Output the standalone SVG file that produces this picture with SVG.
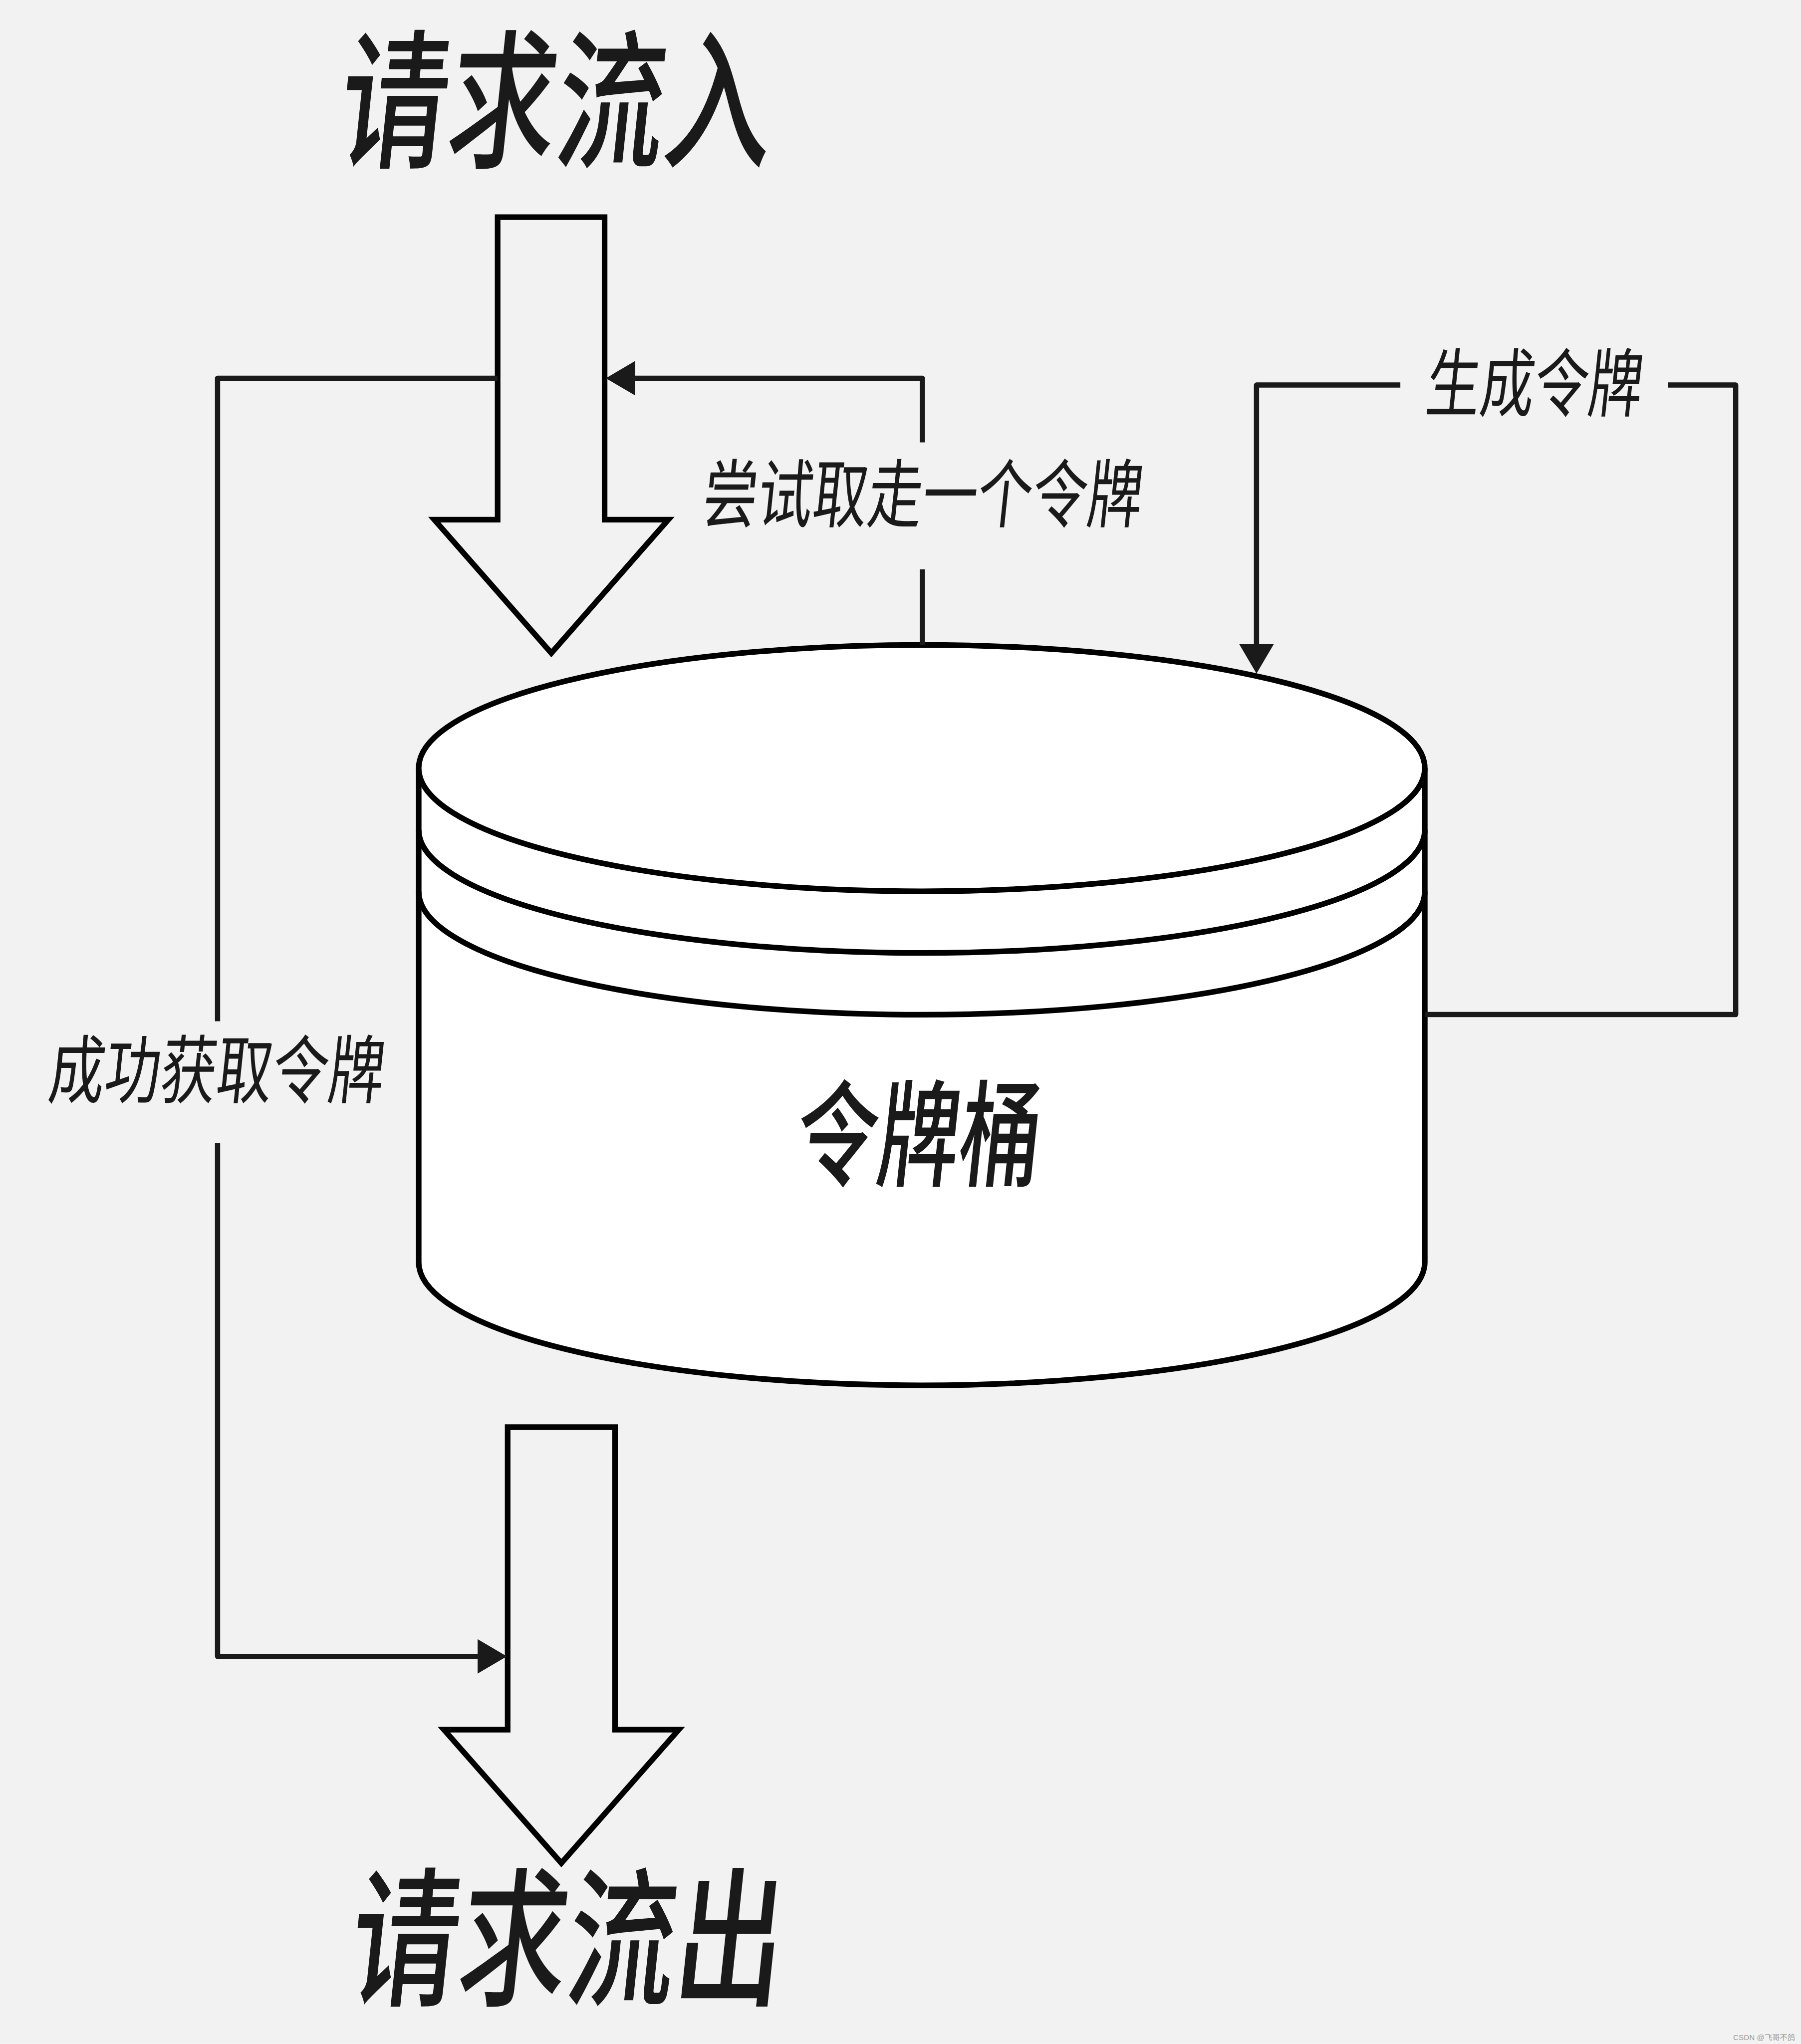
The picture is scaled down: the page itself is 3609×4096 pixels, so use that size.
<svg xmlns="http://www.w3.org/2000/svg" width="3609" height="4096" viewBox="0 0 3609 4096">
<style>
.bg{fill:#f2f2f2}
.shape{fill:none;stroke:#000;stroke-width:14;stroke-linejoin:miter;stroke-miterlimit:10}
.cyl{fill:#fff;stroke:#000;stroke-width:14}
.arc{fill:none;stroke:#000;stroke-width:14}
.conn{fill:none;stroke:#1a1a1a;stroke-width:13;stroke-linejoin:round}
.title{font-family:"Noto Sans CJK SC","Noto Sans CJK TC",sans-serif;font-weight:500;font-size:374px;fill:#1a1a1a;text-anchor:middle}
.label{font-family:"Noto Sans CJK SC","Noto Sans CJK TC",sans-serif;font-weight:400;font-size:186px;fill:#1a1a1a;text-anchor:middle}
.name{font-family:"Noto Sans CJK SC","Noto Sans CJK TC",sans-serif;font-weight:500;font-size:288px;fill:#1a1a1a;text-anchor:middle}
.wm{font-family:"Liberation Sans","Noto Sans CJK SC",sans-serif;font-size:19px;fill:#9a9a9a;text-anchor:end}
</style>
<defs>
<marker id="ah" markerUnits="userSpaceOnUse" markerWidth="74" markerHeight="88" refX="0" refY="44" orient="auto" viewBox="0 0 74 88">
<path d="M0,1 L73,44 L0,87 Z" fill="#1a1a1a"/>
</marker>
</defs>
<g transform="scale(0.8029)">
<rect class="bg" x="0" y="0" width="4495" height="5101"/>

<g id="title-in">
<text class="title" transform="translate(1378,390) skewX(-6) scale(0.722,1)">请求流入</text>
</g>

<g id="arrow-in">
<polygon class="shape" points="1242,542 1509,542 1509,1297 1668,1297 1376,1630 1084,1297 1242,1297"/>
</g>

<g id="bucket">
<path class="cyl" d="M1045,1917 L1045,3150 A1255.5,307.5 0 0 0 3556,3150 L3556,1917"/>
<ellipse class="cyl" cx="2300.5" cy="1917" rx="1255.5" ry="307.5"/>
<path class="arc" d="M1045,2071 A1255.5,307.5 0 0 0 3556,2071"/>
<path class="arc" d="M1045,2225 A1255.5,307.5 0 0 0 3556,2225"/>
<text class="name" transform="translate(2284,2938) skewX(-6) scale(0.708,1)">令牌桶</text>
</g>

<g id="arrow-out">
<polygon class="shape" points="1267,3562 1535,3562 1535,4317 1694,4317 1401,4650 1108,4317 1267,4317"/>
</g>

<g id="title-out">
<text class="title" transform="translate(1405,4977) skewX(-6) scale(0.722,1)">请求流出</text>
</g>

<g id="connectors">
<path class="conn" d="M2302,1610 L2302,1421 M2302,1104 L2302,944 L1585,944" marker-end="url(#ah)"/>
<path class="conn" d="M3556,2532 L4332,2532 L4332,961 L4163,961 M3495,961 L3136,961 L3136,1608" marker-end="url(#ah)"/>
<path class="conn" d="M1242,944 L543,944 L543,2549 M543,2853 L543,4134 L1192,4134" marker-end="url(#ah)"/>
</g>

<g id="labels">
<text class="label" transform="translate(2297,1301) skewX(-6) scale(0.737,1)">尝试取走一个令牌</text>
<text class="label" transform="translate(3824,1025) skewX(-6) scale(0.725,1)">生成令牌</text>
<text class="label" transform="translate(535,2739) skewX(-6) scale(0.75,1)">成功获取令牌</text>
</g>

<text class="wm" x="4480" y="5091">CSDN @飞哥不鸽</text>
</g>
</svg>
